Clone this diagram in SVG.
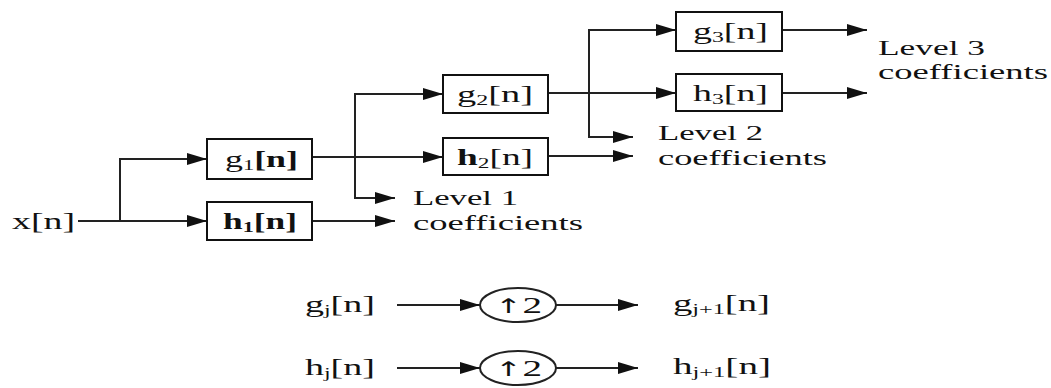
<svg xmlns="http://www.w3.org/2000/svg" width="1051" height="388" viewBox="0 0 1051 388">
<style>
.box{fill:#fff;stroke:#111;stroke-width:2}
.ln{fill:none;stroke:#222;stroke-width:2;marker-end:url(#ah)}
.ln0{fill:none;stroke:#222;stroke-width:2}
.t{font-family:"Liberation Serif","Times New Roman",serif;font-size:24px;fill:#111}
.lv{font-family:"Liberation Serif","Times New Roman",serif;font-size:20px;fill:#111}
.sub{font-size:15px}
.ell{fill:#fff;stroke:#222;stroke-width:2}
</style>
<defs>
<marker id="ah" markerUnits="userSpaceOnUse" markerWidth="20" markerHeight="12" refX="20" refY="6" orient="auto">
<path d="M0,0 L20,6 L0,12 z" fill="#111"/>
</marker>
</defs>
<rect width="1051" height="388" fill="#fff"/>
<g id="connectors">
<path class="ln" d="M78,221 H207"/>
<path class="ln" d="M120,221 V159 H207"/>
<path class="ln" d="M312,157 H443"/>
<path class="ln" d="M355,157 V94 H443"/>
<path class="ln" d="M355,157 V198 H395"/>
<path class="ln" d="M312,221 H395"/>
<path class="ln" d="M548,93 H676"/>
<path class="ln" d="M589,93 V30 H676"/>
<path class="ln" d="M589,93 V137 H633"/>
<path class="ln" d="M548,156 H633"/>
<path class="ln" d="M782,30 H867"/>
<path class="ln" d="M782,93 H867"/>
<path class="ln" d="M397,305 H480"/>
<path class="ln" d="M556,305 H638"/>
<path class="ln" d="M397,368 H480"/>
<path class="ln" d="M556,368 H638"/>
</g>
<g id="input">
<text class="t" x="12" y="229" textLength="63" lengthAdjust="spacingAndGlyphs">x[n]</text>
</g>
<g id="g1">
<rect class="box" x="207" y="139" width="105" height="40"/>
<text class="t" x="225" y="167" textLength="73" lengthAdjust="spacingAndGlyphs">g<tspan class="sub" dy="3">1</tspan><tspan dy="-3" font-weight="bold">[n]</tspan></text>
</g>
<g id="h1">
<rect class="box" x="207" y="202" width="105" height="38"/>
<text class="t" x="223" y="229" textLength="74" lengthAdjust="spacingAndGlyphs" font-weight="bold">h<tspan class="sub" dy="3">1</tspan><tspan dy="-3">[n]</tspan></text>
</g>
<g id="g2">
<rect class="box" x="443" y="75" width="105" height="38"/>
<text class="t" x="457" y="102" textLength="76" lengthAdjust="spacingAndGlyphs">g<tspan class="sub" dy="3">2</tspan><tspan dy="-3">[n]</tspan></text>
</g>
<g id="h2">
<rect class="box" x="443" y="138" width="105" height="37"/>
<text class="t" x="457" y="165" textLength="76" lengthAdjust="spacingAndGlyphs"><tspan font-weight="bold">h</tspan><tspan class="sub" dy="3">2</tspan><tspan dy="-3">[n]</tspan></text>
</g>
<g id="g3">
<rect class="box" x="676" y="12" width="106" height="39"/>
<text class="t" x="693" y="39" textLength="75" lengthAdjust="spacingAndGlyphs">g<tspan class="sub" dy="3">3</tspan><tspan dy="-3">[n]</tspan></text>
</g>
<g id="h3">
<rect class="box" x="676" y="74" width="106" height="37"/>
<text class="t" x="693" y="101" textLength="75" lengthAdjust="spacingAndGlyphs">h<tspan class="sub" dy="3">3</tspan><tspan dy="-3">[n]</tspan></text>
</g>
<g id="level1">
<text class="lv" x="413" y="205" textLength="105" lengthAdjust="spacingAndGlyphs">Level 1</text>
<text class="lv" x="413" y="230" textLength="170" lengthAdjust="spacingAndGlyphs">coefficients</text>
</g>
<g id="level2">
<text class="lv" x="658" y="140" textLength="105" lengthAdjust="spacingAndGlyphs">Level 2</text>
<text class="lv" x="658" y="165" textLength="169" lengthAdjust="spacingAndGlyphs">coefficients</text>
</g>
<g id="level3">
<text class="lv" x="878" y="55" textLength="107" lengthAdjust="spacingAndGlyphs">Level 3</text>
<text class="lv" x="878" y="79" textLength="170" lengthAdjust="spacingAndGlyphs">coefficients</text>
</g>
<g id="gj">
<text class="t" x="305" y="312" textLength="70" lengthAdjust="spacingAndGlyphs">g<tspan class="sub" dy="3">j</tspan><tspan dy="-3">[n]</tspan></text>
</g>
<g id="up1">
<ellipse class="ell" cx="518" cy="305" rx="38" ry="17"/>
<text class="t" x="495" y="313" textLength="47" lengthAdjust="spacingAndGlyphs"><tspan font-family="DejaVu Sans, sans-serif" font-size="20">↑</tspan>2</text>
</g>
<g id="gj1">
<text class="t" x="673" y="311" textLength="97" lengthAdjust="spacingAndGlyphs">g<tspan class="sub" dy="3">j+1</tspan><tspan dy="-3">[n]</tspan></text>
</g>
<g id="hj">
<text class="t" x="305" y="375" textLength="70" lengthAdjust="spacingAndGlyphs">h<tspan class="sub" dy="3">j</tspan><tspan dy="-3">[n]</tspan></text>
</g>
<g id="up2">
<ellipse class="ell" cx="518" cy="368" rx="38" ry="17"/>
<text class="t" x="495" y="376" textLength="47" lengthAdjust="spacingAndGlyphs"><tspan font-family="DejaVu Sans, sans-serif" font-size="20">↑</tspan>2</text>
</g>
<g id="hj1">
<text class="t" x="673" y="374" textLength="98" lengthAdjust="spacingAndGlyphs">h<tspan class="sub" dy="3">j+1</tspan><tspan dy="-3">[n]</tspan></text>
</g>
</svg>
